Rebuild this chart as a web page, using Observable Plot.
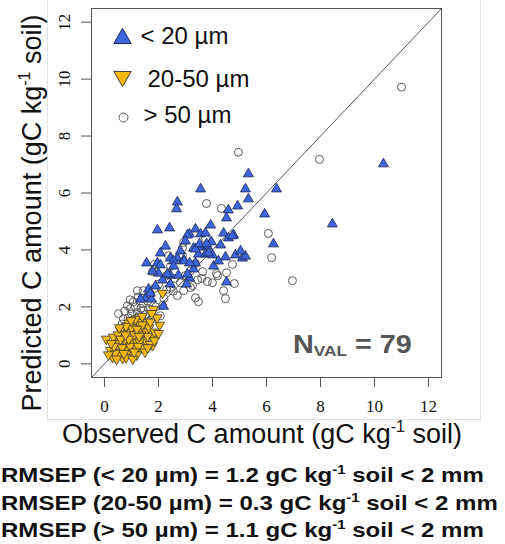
<!DOCTYPE html>
<html><head><meta charset="utf-8">
<script src="https://cdn.jsdelivr.net/npm/d3@7"></script>
<script src="https://cdn.jsdelivr.net/npm/@observablehq/plot@0.6"></script>
<style>body{margin:0;background:#fff;} #chart{position:relative;width:505px;height:544px;overflow:hidden}</style>
</head><body><div id="chart"></div>
<script>
// ---- data ----
const axisTicks = [0, 2, 4, 6, 8, 10, 12];
const legendLabels = ["< 20 µm", "20-50 µm", "> 50 µm"];
const rmsepLines = [
  ["RMSEP (< 20 µm) = 1.2 gC kg", " soil < 2 mm"],
  ["RMSEP (20-50 µm) = 0.3 gC kg", " soil < 2 mm"],
  ["RMSEP (> 50 µm) = 1.1 gC kg", " soil < 2 mm"]
];
const nVal = 79;

const fineObs = [10.33,8.44,5.33,3.56,5.22,6.37,5.33,2.70,2.67,4.93,4.59,4.52,5.93,1.96,2.41,3.37,3.93,3.15,3.56,4.41,4.78,4.59,6.26,3.96,3.30,3.56,3.81,3.48,3.74,4.00,4.48,4.85,5.11,5.22,2.07,1.56,1.96,2.44,2.70,2.93,4.04,4.52,3.15,3.04,3.30,2.96,2.56,2.44,2.74,2.15,2.44,1.63,1.52,1.74,1.33,2.19,1.70,2.00,2.33,2.56,3.37,3.07,3.52,3.78,3.07,4.74,3.85,2.07,3.37,2.81,2.26,5.04,1.89,4.22,3.15,3.74,3.00,4.30,1.78];
const finePred = [7.04,4.93,6.69,6.16,6.16,6.16,5.81,5.70,5.46,5.56,5.42,5.14,5.28,4.72,4.79,4.75,4.89,4.58,4.58,4.61,4.54,4.44,4.23,4.30,4.08,4.12,4.15,3.87,3.87,3.84,3.77,3.84,3.73,3.80,3.91,3.56,3.56,3.73,3.73,3.66,3.45,2.89,3.03,2.82,3.35,3.63,3.63,3.13,3.13,2.96,2.82,2.64,2.32,2.29,2.29,2.04,2.50,3.20,3.17,3.45,4.05,3.17,4.23,4.23,4.54,4.51,3.91,3.49,3.56,3.98,4.15,3.98,2.75,3.63,3.56,4.61,4.33,4.19,3.27];

const midObs = [0.07,2.15,1.81,2.04,1.59,1.22,0.70,0.96,1.41,1.78,1.52,0.41,0.48,0.85,1.33,1.78,0.22,0.30,0.67,0.96,1.07,0.59,0.85,1.04,1.22,0.67,1.70,1.26,0.89,0.59,0.33,0.52,0.89,1.15,1.44,1.00,1.10,0.80,1.35,1.55,1.65,0.75,0.55,0.40,0.80,1.20,1.45,0.95,0.65,1.30,1.60,1.85,0.50,1.15,1.40,1.70,0.35,0.72,1.05,1.25,0.90,1.50,0.60,1.95,1.75,1.10,0.45,0.25,1.35,0.78,1.60,1.20,0.98,1.85,0.55,1.40,2.00,0.15,1.28];
const midPred = [0.85,2.46,1.90,1.34,1.44,1.34,1.16,1.09,0.92,0.92,0.81,0.88,0.56,0.70,0.53,0.63,0.46,0.21,0.18,0.35,0.53,0.39,0.92,0.81,1.06,1.06,0.67,1.44,1.41,1.16,0.92,0.28,0.46,0.81,1.09,1.25,1.00,1.30,1.20,1.10,1.25,0.80,0.70,0.35,0.20,0.30,0.55,0.60,0.55,0.75,0.95,1.10,1.00,1.55,1.35,1.45,0.60,0.35,0.15,0.60,0.85,0.40,0.85,1.60,1.75,0.40,0.15,0.70,1.00,1.00,0.55,1.20,1.50,0.80,1.25,1.65,1.05,0.30,0.95];

const coarseObs = [11.00,7.96,4.96,3.78,4.33,6.07,6.19,2.93,2.89,4.74,3.74,6.96,4.52,4.15,4.81,4.41,4.48,3.81,4.00,3.37,3.48,3.63,3.37,3.26,2.93,4.19,3.19,2.44,1.78,2.30,1.22,1.44,1.07,0.85,0.52,0.70,0.96,1.22,1.44,1.63,2.07,0.89,1.33,1.07,1.78,1.44,2.44,2.81,3.19,2.89,2.37,1.85,1.15,1.30,1.55,1.00,1.25,1.60,1.90,0.75,1.35,1.70,2.20,2.60,2.00,1.10,1.50,3.60,2.70,0.95,1.85,2.15,3.00,1.40,0.65,2.30,1.20,2.55,3.45];
const coarsePred = [9.72,7.18,7.43,5.63,5.46,4.58,3.73,4.26,4.08,3.49,4.40,2.92,3.20,3.17,2.82,2.57,2.29,2.89,2.85,2.32,2.18,3.24,3.52,2.75,2.57,3.10,2.68,3.42,3.24,2.61,2.57,2.57,2.18,2.04,1.76,1.58,1.94,1.80,1.87,1.94,1.69,1.62,1.58,1.44,1.69,2.11,2.68,2.85,3.27,3.80,3.80,3.49,2.00,1.70,1.75,1.75,2.35,2.20,2.00,1.85,1.95,2.45,2.30,3.00,2.80,1.55,1.45,3.00,2.40,2.25,2.65,2.05,3.10,2.30,1.40,3.10,1.60,2.55,2.95];

// ---- build tables ----
const toRows = (xs, ys) => xs.map((x, i) => ({obs: x, pred: ys[i]}));
const fine = toRows(fineObs, finePred);
const mid = toRows(midObs, midPred);
const coarse = toRows(coarseObs, coarsePred);
const domain = [-0.48, 12.48];

const triUp = {draw(ctx, size) {
  const r = Math.sqrt(size / Math.PI), w = r * 1.25, h = w * Math.sqrt(3);
  ctx.moveTo(0, -h * 0.6); ctx.lineTo(w, h * 0.4); ctx.lineTo(-w, h * 0.4); ctx.closePath();
}};
const triDown = {draw(ctx, size) {
  const r = Math.sqrt(size / Math.PI), w = r * 1.25, h = w * Math.sqrt(3);
  ctx.moveTo(0, h * 0.6); ctx.lineTo(w, -h * 0.4); ctx.lineTo(-w, -h * 0.4); ctx.closePath();
}};

const blue = "#3d66db", blueStroke = "#1c2450";
const gold = "#f5b90f", goldStroke = "#3a3a3a";
const grey = "#5a5a5a";
const sans = "'Liberation Sans', Arial, sans-serif";

const plot = Plot.plot({
  width: 505, height: 544,
  marginLeft: 91, marginRight: 64, marginTop: 8, marginBottom: 167,
  style: {fontFamily: "'Liberation Serif', 'Times New Roman', serif", fontSize: "17px", background: "white", overflow: "visible"},
  x: {domain, label: null},
  y: {domain, label: null},
  marks: [
    Plot.axisX(axisTicks, {tickSize: 10, tickPadding: 12, stroke: "#555", fill: "#111", label: null, fontSize: 17}),
    Plot.axisY(axisTicks, {tickSize: 10, tickFormat: () => "", stroke: "#555", label: null}),
    Plot.text(axisTicks, {y: d => d, text: d => String(d), frameAnchor: "left", dx: -27, rotate: -90,
      textAnchor: "middle", lineAnchor: "middle", fill: "#111", fontSize: 17}),
    Plot.link([domain], {x1: d => d[0], y1: d => d[0], x2: d => d[1], y2: d => d[1], stroke: "#555", strokeWidth: 1, clip: true}),
    Plot.dot(coarse, {x: "obs", y: "pred", r: 4, stroke: grey, fill: "none", strokeWidth: 1}),
    Plot.dot(mid, {x: "obs", y: "pred", symbol: triDown, r: 4, fill: gold, stroke: goldStroke, strokeWidth: 0.8}),
    Plot.dot(fine, {x: "obs", y: "pred", symbol: triUp, r: 4, fill: blue, stroke: blueStroke, strokeWidth: 0.8}),
    Plot.frame({stroke: "#555"}),
    // legend
    Plot.dot([legendLabels[0]], {frameAnchor: "top-left", dx: 31, dy: 29, symbol: triUp, r: 7, fill: blue, stroke: blueStroke, strokeWidth: 1}),
    Plot.dot([legendLabels[1]], {frameAnchor: "top-left", dx: 31, dy: 69, symbol: triDown, r: 7, fill: gold, stroke: goldStroke, strokeWidth: 1}),
    Plot.dot([legendLabels[2]], {frameAnchor: "top-left", dx: 32, dy: 109, r: 4.5, fill: "none", stroke: grey, strokeWidth: 1}),
    Plot.text([legendLabels[0]], {text: d => d, frameAnchor: "top-left", dx: 49, dy: 35, textAnchor: "start", lineAnchor: "bottom", fontSize: 24, fontFamily: sans, fill: "#111"}),
    Plot.text([legendLabels[1]], {text: d => d, frameAnchor: "top-left", dx: 56, dy: 78, textAnchor: "start", lineAnchor: "bottom", fontSize: 24, fontFamily: sans, fill: "#111"}),
    Plot.text([legendLabels[2]], {text: d => d, frameAnchor: "top-left", dx: 52, dy: 114, textAnchor: "start", lineAnchor: "bottom", fontSize: 24, fontFamily: sans, fill: "#111"})
  ]
});

const svg = d3.select(plot);
// faint outer border of the original figure panel
const border = svg.insert("g", ":first-child").attr("stroke", "#e2e2e2").attr("stroke-width", 1);
border.append("line").attr("x1", 47.5).attr("x2", 47.5).attr("y1", 0).attr("y2", 419.5);
border.append("line").attr("x1", 47.5).attr("x2", 480.5).attr("y1", 419.5).attr("y2", 419.5);
border.append("line").attr("x1", 480.5).attr("x2", 480.5).attr("y1", 0).attr("y2", 419.5);

// axis titles
function titleText(sel, main, rest) {
  sel.append("tspan").text(main);
  sel.append("tspan").attr("font-size", 16).attr("dy", -11).text("-1");
  sel.append("tspan").attr("dy", 11).text(rest);
}
const yt = svg.append("text").attr("transform", "translate(41,213) rotate(-90)")
  .attr("text-anchor", "middle").attr("font-family", sans).attr("font-size", 27).attr("fill", "#111");
titleText(yt, "Predicted C amount (gC kg", " soil)");
const xt = svg.append("text").attr("transform", "translate(262,443)")
  .attr("text-anchor", "middle").attr("font-family", sans).attr("font-size", 27).attr("fill", "#111");
titleText(xt, "Observed C amount (gC kg", " soil)");

// N_VAL annotation
const nt = svg.append("text").attr("transform", "translate(293,353) scale(1.15,1)")
  .attr("text-anchor", "start")
  .attr("font-family", sans).attr("font-weight", "bold").attr("font-size", 25).attr("fill", "#555");
nt.append("tspan").text("N");
nt.append("tspan").attr("font-size", 15).attr("dy", 3).text("VAL");
nt.append("tspan").attr("dy", -3).text(" = " + nVal);

// RMSEP lines
const baselines = [482, 510, 537];
rmsepLines.forEach((parts, i) => {
  const t = svg.append("text").attr("transform", `translate(1,${baselines[i]}) scale(1.145,1)`)
    .attr("text-anchor", "start")
    .attr("font-family", sans).attr("font-weight", "bold").attr("font-size", 21).attr("fill", "#111");
  t.append("tspan").text(parts[0]);
  t.append("tspan").attr("font-size", 13).attr("dy", -8).text("-1");
  t.append("tspan").attr("dy", 8).text(parts[1]);
});

document.getElementById("chart").appendChild(plot);
</script></body></html>
